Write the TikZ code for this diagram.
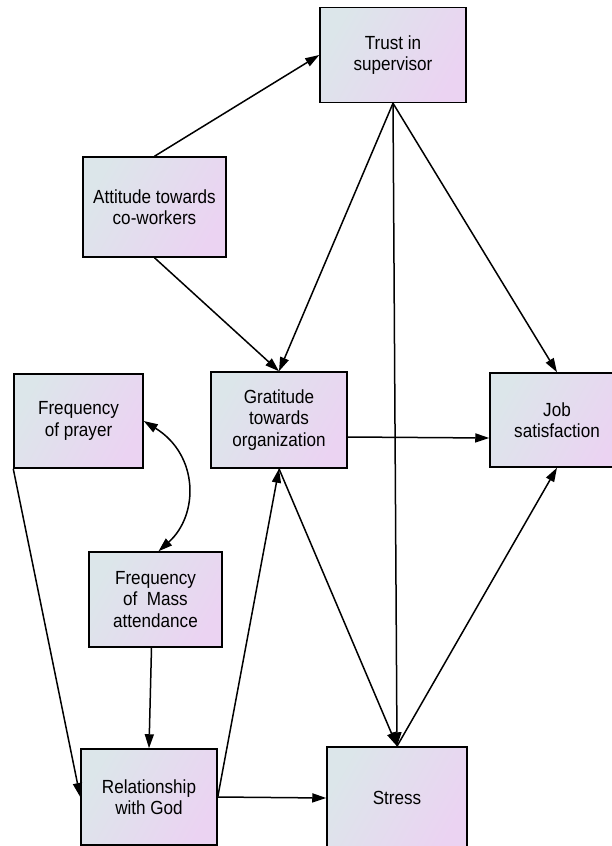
\documentclass[tikz,border=0pt]{standalone}
\usepackage{fontspec}
\usetikzlibrary{arrows.meta}
\newfontfamily\boxfont{Liberation Sans}[FakeStretch=0.9]
\definecolor{boxleft}{HTML}{DCE6EA}
\definecolor{boxright}{HTML}{EBD3F2}

\begin{document}
\begin{tikzpicture}[x=1pt,y=-1pt,
    var/.style={draw, line width=1.5pt, left color=boxleft, right color=boxright,
      shading angle=60, inner sep=0pt, align=center,
      font=\boxfont\fontsize{19}{21.5}\selectfont},
    path/.style={line width=1.5pt, -{Triangle[length=14pt,width=9pt]}}]
  \useasboundingbox (0,0) rectangle (612,846);
  \clip (0,0) rectangle (612,846);

  \node[var, minimum width=146pt, minimum height=95pt] (trust) at (393,55) {Trust in\\supervisor};
  \node[var, minimum width=143pt, minimum height=100pt] (attitude) at (154.5,207) {Attitude towards\\co-workers};
  \node[var, minimum width=129pt, minimum height=94pt] (prayer) at (78.5,421) {Frequency\\of prayer};
  \node[var, minimum width=136pt, minimum height=96pt] (gratitude) at (279,420) {Gratitude\\towards\\organization};
  \node[var, minimum width=134pt, minimum height=94pt] (job) at (557,420) {Job\\satisfaction};
  \node[var, minimum width=133pt, minimum height=95pt] (mass) at (155.5,599.5) {Frequency\\of\ \ Mass\\attendance};
  \node[var, minimum width=136pt, minimum height=96pt] (relation) at (149,797) {Relationship\\with God};
  \node[var, minimum width=140pt, minimum height=102pt] (stress) at (397,798) {Stress};

  % paths from the top
  \draw[path] (attitude.north) -- (trust.west);
  \draw[path] (attitude.south) -- (gratitude.north);
  \draw[path] (trust.south) -- (gratitude.north);
  \draw[path] (trust.south) -- (stress.north);
  \draw[path] (trust.south) -- (job.north);
  \draw[path] ([yshift=-17pt]gratitude.east) -- ([yshift=-18pt]job.west);
  \draw[path] (gratitude.south) -- (stress.north);
  \draw[path] (stress.north) -- (job.south);

  % religious variables
  \draw[path] (relation.east) -- (gratitude.south);
  \draw[path] (relation.east) -- (stress.west);
  \draw[path] (prayer.south west) -- (relation.west);
  \draw[path] ([xshift=-4pt]mass.south) -- (relation.north);
  \draw[path, {Triangle[length=14pt,width=9pt]}-{Triangle[length=14pt,width=9pt]}]
    (prayer.east) .. controls (199,455) and (199,515) .. ([xshift=3pt]mass.north);
\end{tikzpicture}
\end{document}
